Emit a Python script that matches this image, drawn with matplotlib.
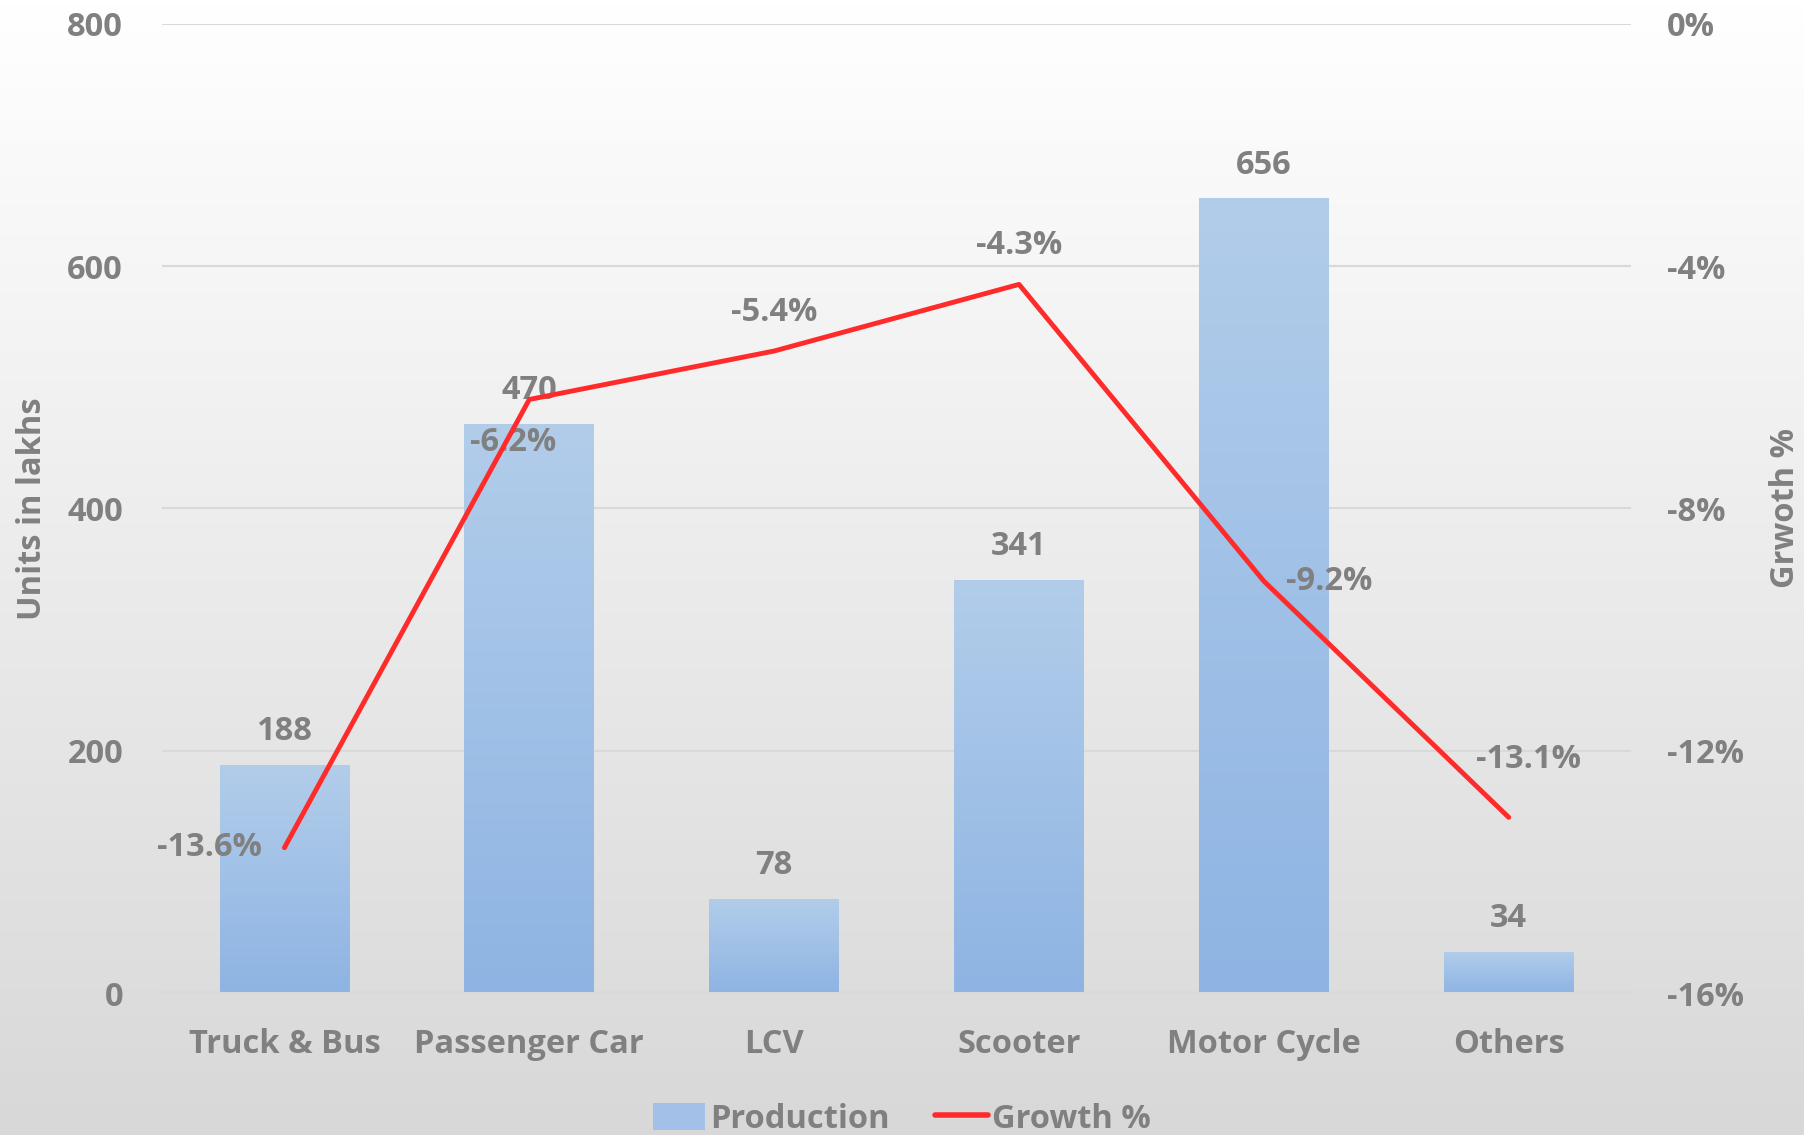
import numpy as np
import matplotlib.pyplot as plt
from matplotlib.lines import Line2D
from matplotlib.patches import Patch
from matplotlib.ticker import FuncFormatter

# data
categories = ["Truck & Bus", "Passenger Car", "LCV", "Scooter", "Motor Cycle", "Others"]
production = [188, 470, 78, 341, 656, 34]
growth = [-13.6, -6.2, -5.4, -4.3, -9.2, -13.1]

# where each growth label sits relative to its point (points), and its alignment
growth_label_pos = [(-16, 0, "right"), (-12, -31, "center"), (0, 28, "center"),
                    (0, 28, "center"), (16, 0, "left"), (14, 42, "center")]

GRAY = "#808080"
plt.rcParams['font.family'] = ['Open Sans', 'DejaVu Sans']
plt.rcParams['font.weight'] = 'bold'
FS = 23.5

fig = plt.figure(figsize=(18.04, 11.35), dpi=100)

# background gradient, white at top to light gray at bottom
bg = fig.add_axes([0, 0, 1, 1], zorder=-10)
grad = np.linspace(0, 1, 256).reshape(-1, 1)
bg_cmap = plt.matplotlib.colors.LinearSegmentedColormap.from_list("bg", ["#ffffff", "#d8d8d8"])
bg.imshow(grad, aspect="auto", cmap=bg_cmap, extent=[0, 1, 0, 1], origin="upper")
bg.axis("off")

ax = fig.add_axes([0.0898, 0.1251, 0.8144, 0.8538])
ax.patch.set_visible(False)
x = np.arange(len(categories))

bars = ax.bar(x, production, width=0.53, color="#9fbfe6", zorder=2)
bar_cmap = plt.matplotlib.colors.LinearSegmentedColormap.from_list("bar", ["#b2cdea", "#8eb4e3"])
for b in bars:
    x0, w, h = b.get_x(), b.get_width(), b.get_height()
    im = ax.imshow(grad, aspect="auto", cmap=bar_cmap, extent=[x0, x0 + w, 0, h],
                   origin="upper", zorder=2.1)
    im.set_clip_path(b)
    ax.annotate(f"{h:.0f}", (x0 + w / 2, h), xytext=(0, 24), textcoords="offset points",
                ha="center", va="center", fontsize=FS, color=GRAY, fontweight="bold")

ax.set_xlim(-0.5, len(categories) - 0.5)
ax.set_ylim(0, 800)
ax.set_yticks([0, 200, 400, 600, 800])
ax.set_xticks(x)
ax.set_xticklabels(categories)
ax.tick_params(axis="both", length=0, labelsize=FS, labelcolor=GRAY)
ax.tick_params(axis="y", pad=28)
ax.tick_params(axis="x", pad=25)
ax.grid(axis="y", color="#d9d9d9", linewidth=1.5, zorder=0)
ax.set_axisbelow(True)
for s in ["top", "right", "left"]:
    ax.spines[s].set_visible(False)
ax.spines["bottom"].set_color("#d9d9d9")
ax.spines["bottom"].set_linewidth(1.5)
ax.set_ylabel("Units in lakhs", fontsize=FS, color=GRAY, fontweight="bold")
ax.yaxis.set_label_coords(-0.077, 0.5)

ax2 = ax.twinx()
ax2.plot(x, growth, color="#ff2b2b", linewidth=3.5, zorder=5, solid_capstyle="round")
ax2.set_ylim(-16, 0)
ax2.set_yticks([-16, -12, -8, -4, 0])
ax2.yaxis.set_major_formatter(FuncFormatter(lambda v, p: f"{v:.0f}%"))
ax2.tick_params(axis="y", length=0, labelsize=FS, labelcolor=GRAY, pad=26)
for s in ax2.spines.values():
    s.set_visible(False)
ax2.set_ylabel("Grwoth %", fontsize=FS, color=GRAY, fontweight="bold", rotation=90)
ax2.yaxis.set_label_coords(1.094, 0.5)

for xi, g, (dx, dy, ha) in zip(x, growth, growth_label_pos):
    ax2.annotate(f"{g:.1f}%", (xi, g), xytext=(dx, dy), textcoords="offset points",
                 ha=ha, va="center", fontsize=FS, color=GRAY, fontweight="bold")

handles = [Patch(facecolor="#a3c1e8", edgecolor="none"),
           Line2D([0], [0], color="#ff2b2b", linewidth=4, solid_capstyle="round")]
fig.legend(handles, ["Production", "Growth %"], loc="center", bbox_to_anchor=(0.5, 0.014),
           ncol=2, frameon=False, fontsize=FS, labelcolor=GRAY, handlelength=1.6,
           handletextpad=0.15, columnspacing=1.4, handleheight=0.9)

fig.savefig("out.png", dpi=100)
